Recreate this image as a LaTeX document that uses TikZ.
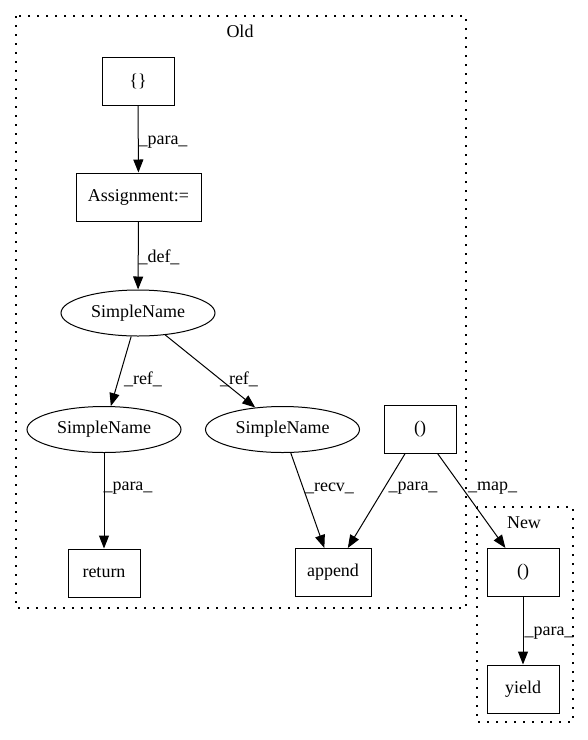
\documentclass[tikz,border=0pt]{standalone}
\usepackage{fontspec}
\setmainfont{Liberation Serif}
\usetikzlibrary{arrows.meta,shapes.geometric}
\begin{document}
\begin{tikzpicture}[x=1pt,y=-1pt,
  font=\fontsize{18}{21}\selectfont,
  box/.style={draw,line width=1pt,minimum width=72pt,minimum height=48pt,inner sep=0pt},
  ell/.style={draw,ellipse,line width=1pt,minimum width=154pt,minimum height=46pt,inner sep=0pt},
  cluster/.style={draw,line width=1.3pt,dash pattern=on 1.6pt off 7.4pt},
  edge/.style={draw,line width=1pt,-{Triangle[length=13pt,width=10pt]}},
  lab/.style={inner sep=0pt}]
\useasboundingbox (0,0) rectangle (588,740);
% clusters
\draw[cluster] (16,16) rectangle (466,608);
\node[lab] (oldlab) at (240,31) {Old};
\draw[cluster] (477,507) rectangle (573,722);
\node[lab] (newlab) at (524,523) {New};
% nodes
\node[box] (braces) at (138,81) {\{\}};
\node[box,minimum width=125pt] (assign) at (138.5,197) {Assignment:=};
\node[ell] (sn0) at (138,313) {SimpleName};
\node[ell] (sn1) at (104,429.5) {SimpleName};
\node[ell] (sn2) at (282.5,429.5) {SimpleName};
\node[box] (par0) at (420,429) {()};
\node[box] (ret) at (104,573) {return};
\node[box,minimum width=76pt] (app) at (333,572.5) {append};
\node[box] (par1) at (523,572.5) {()};
\node[box] (yld) at (523,689) {yield};
% edges
\draw[edge] (braces) -- (assign);
\draw[edge] (assign) -- (sn0);
\draw[edge] (sn0) -- (sn1);
\draw[edge] (sn0) -- (sn2);
\draw[edge] (sn1) -- (ret);
\draw[edge] (sn2) -- (app);
\draw[edge] (par0) -- (app);
\draw[edge] (par0) -- (par1);
\draw[edge] (par1) -- (yld);
% edge labels
\node[lab] (l1) at (163,142) {\_para\_};
\node[lab] (l2) at (159,257) {\_def\_};
\node[lab] (l3) at (143,379) {\_ref\_};
\node[lab] (l4) at (239,379) {\_ref\_};
\node[lab] (l5) at (128,488) {\_para\_};
\node[lab] (l6) at (329.5,488) {\_recv\_};
\node[lab] (l7) at (413,488) {\_para\_};
\node[lab] (l8) at (492.5,488) {\_map\_};
\node[lab] (l9) at (549,633) {\_para\_};
\end{tikzpicture}
\end{document}
